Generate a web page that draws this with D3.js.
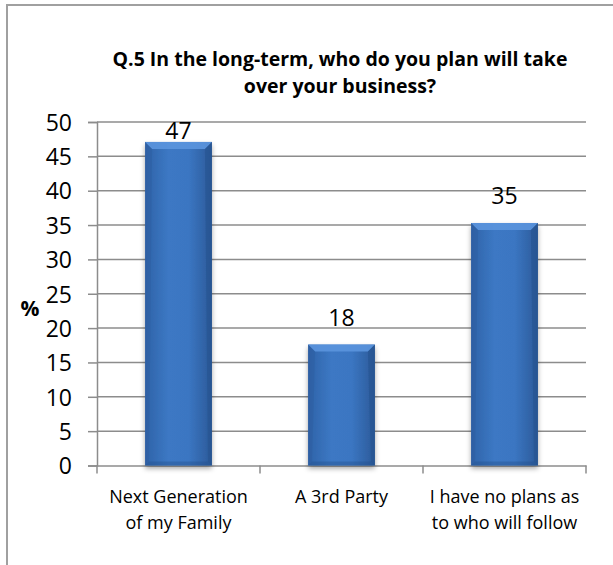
<!DOCTYPE html>
<html>
<head>
<meta charset="utf-8">
<script src="https://cdn.jsdelivr.net/npm/d3@7"></script>
<style>
  body { margin: 0; background: #fff; }
  text { font-family: "Open Sans", Lato, sans-serif; fill: #000; }
</style>
</head>
<body>
<div id="chart"></div>
<script>
const categories = [["Next Generation", "of my Family"], ["A 3rd Party"], ["I have no plans as", "to who will follow"]];
const values = [47.1, 17.6, 35.3];
const yTicks = [0, 5, 10, 15, 20, 25, 30, 35, 40, 45, 50];
const titleLines = ["Q.5 In the long-term, who do you plan will take", "over your business?"];

const width = 613, height = 565;
const margin = { top: 122, right: 27, bottom: 99, left: 97 };

const svg = d3.select("#chart").append("svg")
  .attr("width", width)
  .attr("height", height);

// gradients + shadow
const defs = svg.append("defs");
const grad = defs.append("linearGradient").attr("id", "barGrad")
  .attr("x1", "0").attr("x2", "1").attr("y1", "0").attr("y2", "0");
grad.append("stop").attr("offset", "0%").attr("stop-color", "#2f63a8");
grad.append("stop").attr("offset", "35%").attr("stop-color", "#3c78c4");
grad.append("stop").attr("offset", "65%").attr("stop-color", "#3b76c2");
grad.append("stop").attr("offset", "100%").attr("stop-color", "#2b5a99");
const flt = defs.append("filter").attr("id", "shadow")
  .attr("x", "-20%").attr("y", "-10%").attr("width", "140%").attr("height", "130%");
flt.append("feDropShadow").attr("dx", 0).attr("dy", 3).attr("stdDeviation", 2.5)
  .attr("flood-color", "#000").attr("flood-opacity", 0.35);

// frame
svg.append("path")
  .attr("d", `M7,${height} L7,5 L${width},5`)
  .attr("fill", "none").attr("stroke", "#a0a0a0").attr("stroke-width", 2);

// title
svg.append("text")
  .attr("text-anchor", "middle")
  .style("font-weight", "bold").style("font-size", "19.5px")
  .selectAll("tspan").data(titleLines).join("tspan")
  .attr("x", 340).attr("y", (d, i) => 66 + i * 27)
  .text(d => d);

const x = d3.scaleBand()
  .domain(d3.range(categories.length))
  .range([margin.left, width - margin.right])
  .paddingInner(0).paddingOuter(0);

const y = d3.scaleLinear()
  .domain([0, 50])
  .range([height - margin.bottom - 0.5, margin.top]);

// gridlines
svg.append("g").selectAll("line").data(yTicks.filter(d => d > 0)).join("line")
  .attr("x1", margin.left).attr("x2", width - margin.right)
  .attr("y1", d => y(d)).attr("y2", d => y(d))
  .attr("stroke", "#8c8c8c").attr("stroke-width", 1.5);

// y axis
const yAxis = svg.append("g")
  .attr("transform", `translate(${margin.left},0)`)
  .call(d3.axisLeft(y).tickValues(yTicks).tickSize(9).tickPadding(16));
yAxis.select(".domain").attr("stroke", "#8c8c8c").attr("stroke-width", 1.5);
yAxis.selectAll(".tick line").attr("stroke", "#8c8c8c").attr("stroke-width", 1.5);
yAxis.selectAll(".tick text")
  .style("font-size", "23px").style("font-family", "'Open Sans', Lato, sans-serif")
  .attr("fill", "#000").attr("dy", "0.36em");

// x axis
const xAxis = svg.append("g")
  .attr("transform", `translate(0,${y(0)})`)
  .call(d3.axisBottom(x).tickValues([]).tickSizeOuter(0));
xAxis.select(".domain").attr("stroke", "#8c8c8c").attr("stroke-width", 1.5);
const xEdges = d3.range(categories.length + 1).map(i => margin.left + i * x.step());
xAxis.selectAll("line.sep").data(xEdges).join("line").attr("class", "sep")
  .attr("x1", d => d).attr("x2", d => d).attr("y1", 0).attr("y2", 8)
  .attr("stroke", "#8c8c8c").attr("stroke-width", 1.5);

// y title
svg.append("text")
  .attr("x", 30).attr("y", 316)
  .attr("text-anchor", "middle")
  .style("font-weight", "bold").style("font-size", "21px")
  .text("%");

// bars
const barW = x.bandwidth() * 0.41;
const bars = svg.append("g").selectAll("g").data(values).join("g");
bars.each(function(v, i) {
  const g = d3.select(this);
  const cx = x(i) + x.bandwidth() / 2;
  const x0 = cx - barW / 2, x1 = cx + barW / 2;
  const y0 = y(v), y1 = y(0);
  const b = 7;
  g.append("rect")
    .attr("x", x0).attr("y", y0).attr("width", barW).attr("height", y1 - y0)
    .attr("fill", "url(#barGrad)").attr("filter", "url(#shadow)");
  g.append("path")
    .attr("d", `M${x0},${y0} L${x1},${y0} L${x1 - b},${y0 + b} L${x0 + b},${y0 + b} Z`)
    .attr("fill", "#5b95de").attr("opacity", 0.9);
  g.append("path")
    .attr("d", `M${x1},${y0} L${x1},${y1} L${x1 - 4},${y1 - 4} L${x1 - b},${y0 + b} Z`)
    .attr("fill", "#23508c").attr("opacity", 0.5);
  g.append("path")
    .attr("d", `M${x0},${y0} L${x0},${y1} L${x0 + 4},${y1 - 4} L${x0 + b},${y0 + b} Z`)
    .attr("fill", "#2a5a9c").attr("opacity", 0.35);
  g.append("path")
    .attr("d", `M${x0},${y1} L${x1},${y1} L${x1 - 4},${y1 - 4} L${x0 + 4},${y1 - 4} Z`)
    .attr("fill", "#23508c").attr("opacity", 0.4);
});

// value labels
svg.append("g").selectAll("text").data(values).join("text")
  .attr("x", (d, i) => x(i) + x.bandwidth() / 2)
  .attr("y", d => Math.max(y(d) - 19, y(50) + 17))
  .attr("text-anchor", "middle")
  .style("font-size", "23px")
  .text(d => Math.round(d));

// category labels
svg.append("g").selectAll("text").data(categories).join("text")
  .attr("text-anchor", "middle")
  .style("font-size", "18px")
  .each(function(lines, i) {
    d3.select(this).selectAll("tspan").data(lines).join("tspan")
      .attr("x", x(i) + x.bandwidth() / 2)
      .attr("y", (d, j) => 503 + j * 26)
      .text(d => d);
  });
</script>
</body>
</html>
